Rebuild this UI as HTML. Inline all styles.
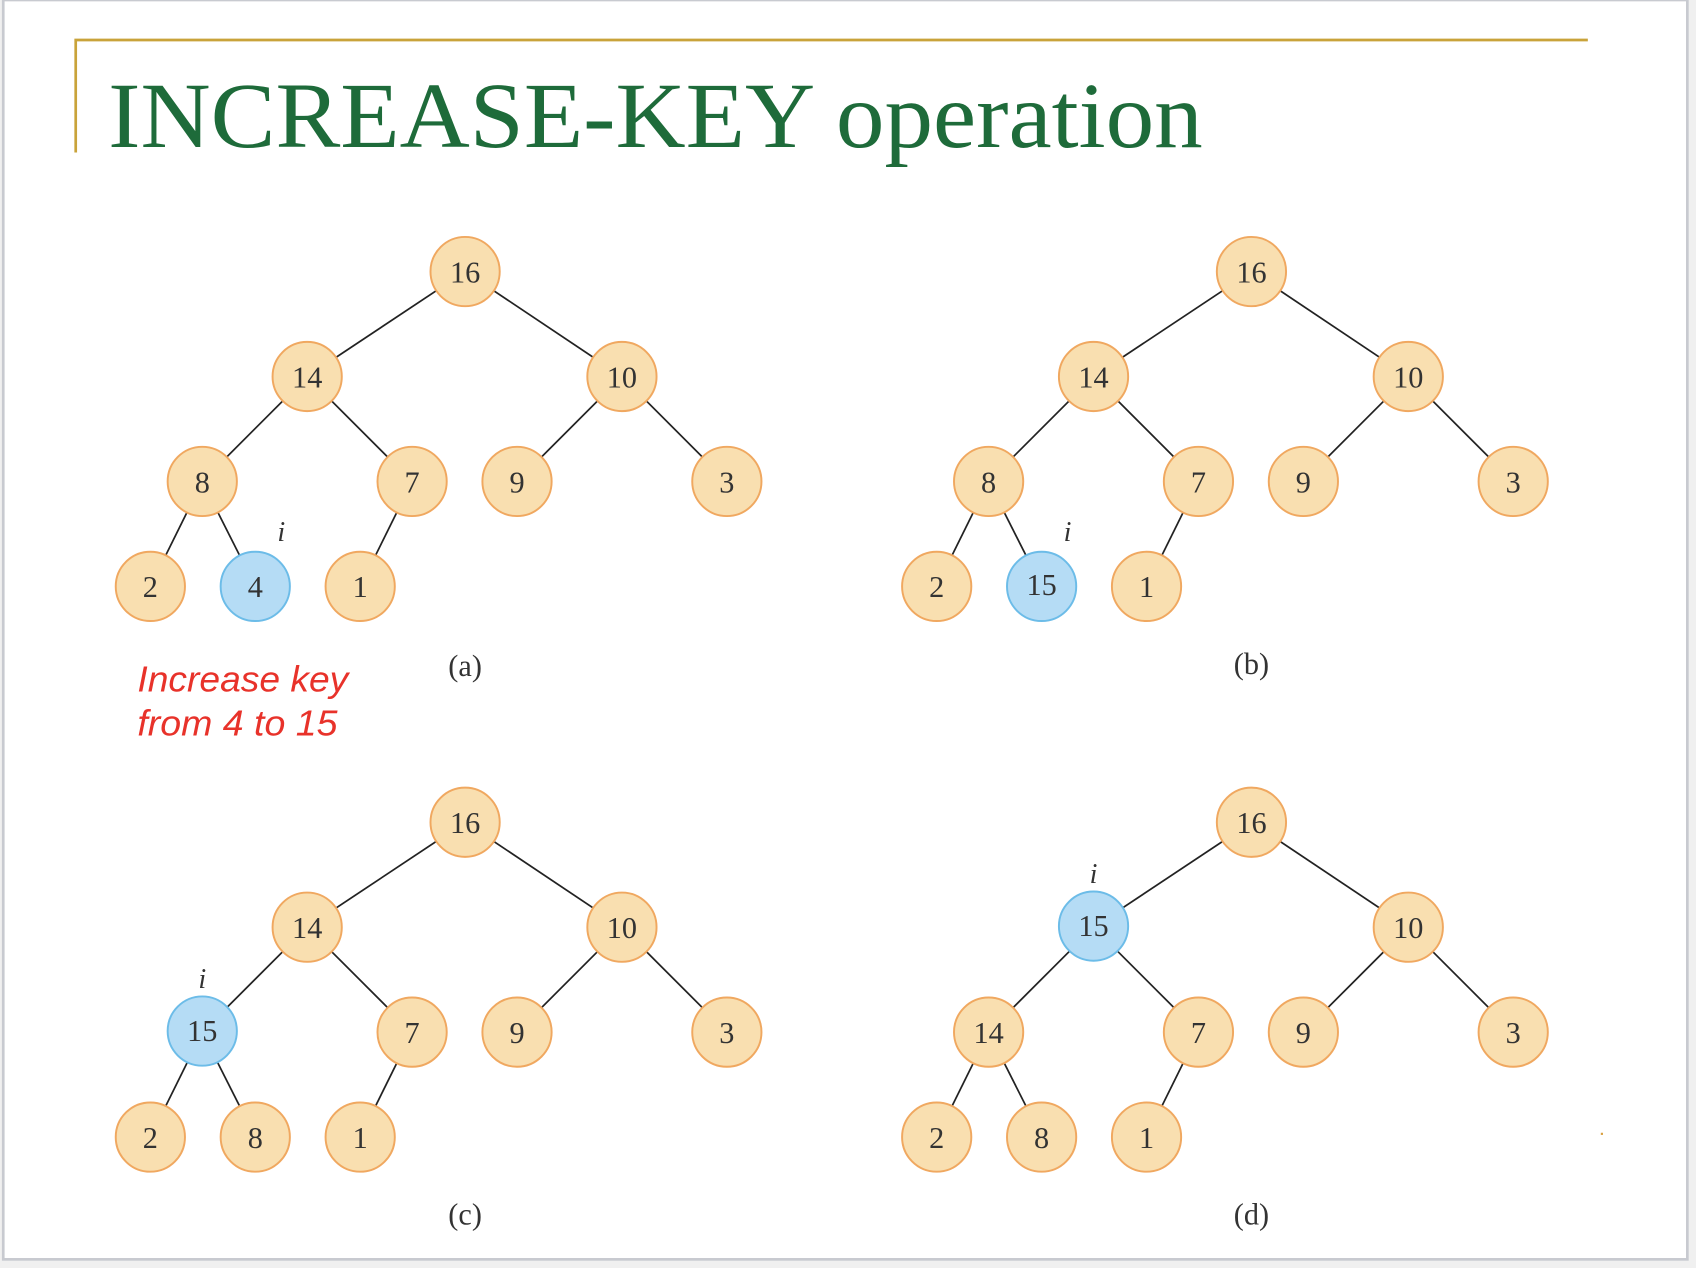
<!DOCTYPE html>
<html><head><style>
html,body{margin:0;padding:0;background:#f0f0f0;}
svg{display:block;}
</style></head><body>
<svg width="1696" height="1268" viewBox="0 0 1568 1172" preserveAspectRatio="none" xmlns="http://www.w3.org/2000/svg">
<defs>
<g id="edges" stroke="#222" stroke-width="1.6">
<line x1="0" y1="0" x2="-146" y2="97"/><line x1="0" y1="0" x2="145" y2="97"/>
<line x1="-146" y1="97" x2="-243" y2="194"/><line x1="-146" y1="97" x2="-49" y2="194"/>
<line x1="145" y1="97" x2="48" y2="194"/><line x1="145" y1="97" x2="242" y2="194"/>
<line x1="-243" y1="194" x2="-291" y2="291"/><line x1="-243" y1="194" x2="-194" y2="291"/>
<line x1="-49" y1="194" x2="-97" y2="291"/>
</g>
</defs>
<rect x="3" y="0" width="1557" height="1164" fill="#fff" stroke="#c8cad0" stroke-width="2.5"/>
<path d="M70 141 V37 H1468" fill="none" stroke="#c9a33a" stroke-width="2.5"/>
<text x="100" y="136" font-family="Liberation Serif, serif" font-size="86" fill="#1e6b3a" textLength="1012" lengthAdjust="spacingAndGlyphs">INCREASE-KEY operation</text>
<g font-family="Liberation Sans, sans-serif" font-style="italic" font-size="33" fill="#e8322a">
<text x="127" y="639" textLength="195" lengthAdjust="spacingAndGlyphs">Increase key</text><text x="127" y="680" textLength="185" lengthAdjust="spacingAndGlyphs">from 4 to 15</text>
</g>
<style>
.n{fill:#f9dfb0;stroke:#f0a860;stroke-width:1.8}
.b{fill:#b5dcf5;stroke:#6cbce8;stroke-width:1.8}
.t{font-family:"Liberation Serif",serif;font-size:28px;fill:#333;text-anchor:middle}
.i{font-family:"Liberation Serif",serif;font-size:26px;font-style:italic;fill:#333;text-anchor:middle}
</style>
<!-- a -->
<g transform="translate(430,251)">
<use href="#edges"/>
<circle class="n" cx="0" cy="0" r="32"/><circle class="n" cx="-146" cy="97" r="32"/><circle class="n" cx="145" cy="97" r="32"/>
<circle class="n" cx="-243" cy="194" r="32"/><circle class="n" cx="-49" cy="194" r="32"/><circle class="n" cx="48" cy="194" r="32"/><circle class="n" cx="242" cy="194" r="32"/>
<circle class="n" cx="-291" cy="291" r="32"/><circle class="b" cx="-194" cy="291" r="32"/><circle class="n" cx="-97" cy="291" r="32"/>
<g class="t"><text x="0" y="10">16</text><text x="-146" y="107">14</text><text x="145" y="107">10</text><text x="-243" y="204">8</text><text x="-49" y="204">7</text><text x="48" y="204">9</text><text x="242" y="204">3</text><text x="-291" y="301">2</text><text x="-194" y="301">4</text><text x="-97" y="301">1</text></g>
<text class="i" x="-170" y="249">i</text>
<text class="t" x="0" y="374">(a)</text>
</g>
<!-- b -->
<g transform="translate(1157,251)">
<use href="#edges"/>
<circle class="n" cx="0" cy="0" r="32"/><circle class="n" cx="-146" cy="97" r="32"/><circle class="n" cx="145" cy="97" r="32"/>
<circle class="n" cx="-243" cy="194" r="32"/><circle class="n" cx="-49" cy="194" r="32"/><circle class="n" cx="48" cy="194" r="32"/><circle class="n" cx="242" cy="194" r="32"/>
<circle class="n" cx="-291" cy="291" r="32"/><circle class="b" cx="-194" cy="291" r="32"/><circle class="n" cx="-97" cy="291" r="32"/>
<g class="t"><text x="0" y="10">16</text><text x="-146" y="107">14</text><text x="145" y="107">10</text><text x="-243" y="204">8</text><text x="-49" y="204">7</text><text x="48" y="204">9</text><text x="242" y="204">3</text><text x="-291" y="301">2</text><text x="-194" y="299">15</text><text x="-97" y="301">1</text></g>
<text class="i" x="-170" y="249">i</text>
<text class="t" x="0" y="372">(b)</text>
</g>
<!-- c -->
<g transform="translate(430,760)">
<use href="#edges"/>
<circle class="n" cx="0" cy="0" r="32"/><circle class="n" cx="-146" cy="97" r="32"/><circle class="n" cx="145" cy="97" r="32"/>
<circle class="b" cx="-243" cy="193" r="32"/><circle class="n" cx="-49" cy="194" r="32"/><circle class="n" cx="48" cy="194" r="32"/><circle class="n" cx="242" cy="194" r="32"/>
<circle class="n" cx="-291" cy="291" r="32"/><circle class="n" cx="-194" cy="291" r="32"/><circle class="n" cx="-97" cy="291" r="32"/>
<g class="t"><text x="0" y="10">16</text><text x="-146" y="107">14</text><text x="145" y="107">10</text><text x="-243" y="202">15</text><text x="-49" y="204">7</text><text x="48" y="204">9</text><text x="242" y="204">3</text><text x="-291" y="301">2</text><text x="-194" y="301">8</text><text x="-97" y="301">1</text></g>
<text class="i" x="-243" y="153">i</text>
<text class="t" x="0" y="372">(c)</text>
</g>
<!-- d -->
<g transform="translate(1157,760)">
<use href="#edges"/>
<circle class="n" cx="0" cy="0" r="32"/><circle class="b" cx="-146" cy="96" r="32"/><circle class="n" cx="145" cy="97" r="32"/>
<circle class="n" cx="-243" cy="194" r="32"/><circle class="n" cx="-49" cy="194" r="32"/><circle class="n" cx="48" cy="194" r="32"/><circle class="n" cx="242" cy="194" r="32"/>
<circle class="n" cx="-291" cy="291" r="32"/><circle class="n" cx="-194" cy="291" r="32"/><circle class="n" cx="-97" cy="291" r="32"/>
<g class="t"><text x="0" y="10">16</text><text x="-146" y="105">15</text><text x="145" y="107">10</text><text x="-243" y="204">14</text><text x="-49" y="204">7</text><text x="48" y="204">9</text><text x="242" y="204">3</text><text x="-291" y="301">2</text><text x="-194" y="301">8</text><text x="-97" y="301">1</text></g>
<text class="i" x="-146" y="56">i</text>
<text class="t" x="0" y="372">(d)</text>
</g>
<rect x="1480" y="1047" width="2" height="2" fill="#d9a040"/>
</svg>
</body></html>
